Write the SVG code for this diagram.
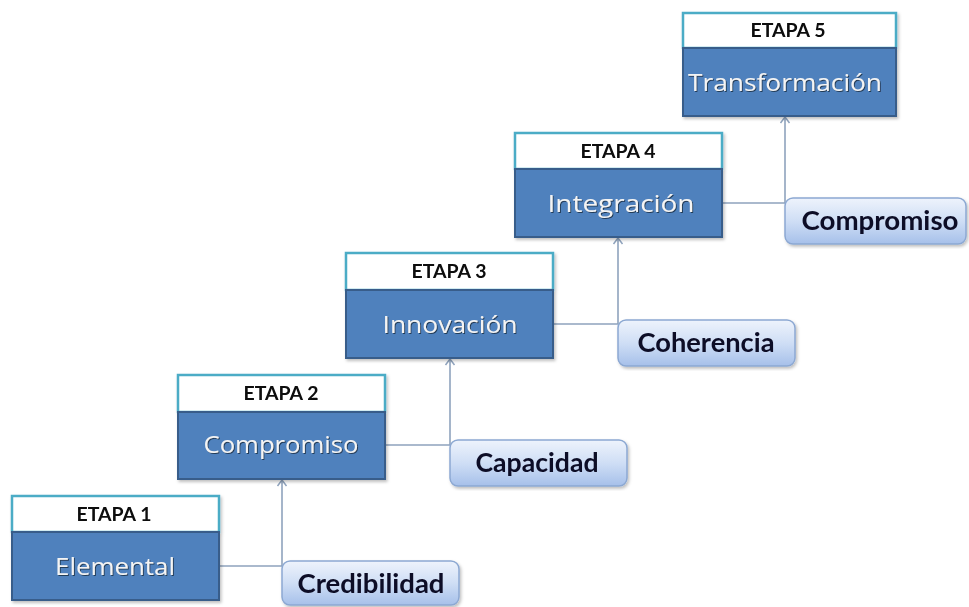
<svg xmlns="http://www.w3.org/2000/svg" width="969" height="607" viewBox="0 0 969 607">
<defs>
<linearGradient id="lg" x1="0" y1="0" x2="0" y2="1">
<stop offset="0" stop-color="#eef3fc"/>
<stop offset="0.5" stop-color="#cfdef5"/>
<stop offset="1" stop-color="#a6c0ea"/>
</linearGradient>
<filter id="ts" x="-10%" y="-30%" width="120%" height="160%">
<feDropShadow dx="1" dy="1" stdDeviation="0.6" flood-color="#1a2a40" flood-opacity="0.8"/>
</filter>
<filter id="bs" x="-5%" y="-5%" width="112%" height="115%">
<feDropShadow dx="1.5" dy="2" stdDeviation="1.5" flood-color="#000" flood-opacity="0.25"/>
</filter>
<marker id="ar" markerWidth="12" markerHeight="12" refX="6" refY="1" orient="0" markerUnits="userSpaceOnUse">
<path d="M1.5,7 L6,1 L10.5,7" fill="none" stroke="#8fa3bd" stroke-width="1.5"/>
</marker>
</defs>
<style>
.hd{fill:#ffffff;stroke:#4bacc6;stroke-width:2.5}
.bl{fill:#4f81bd;stroke:#385d8a;stroke-width:2}
.ht{font-family:Lato,"Liberation Sans",sans-serif;font-weight:bold;font-size:19px;fill:#0a0a0a;text-anchor:middle}
.bt{font-family:"Open Sans","Liberation Sans",sans-serif;font-size:24px;fill:#f4f4f4;text-anchor:middle;filter:url(#ts)}
.lb{fill:url(#lg);stroke:#8ca8d2;stroke-width:1.5}
.lt{font-family:Lato,"Liberation Sans",sans-serif;font-weight:bold;font-size:26px;fill:#0d0d26;text-anchor:middle}
.cn{fill:none;stroke:#8fa3bd;stroke-width:1.6}
</style>
<rect width="969" height="607" fill="#ffffff"/>
<g id="connectors">
<path class="cn" d="M219,566 H282 V480" marker-end="url(#ar)"/>
<path class="cn" d="M386,445 H450 V359" marker-end="url(#ar)"/>
<path class="cn" d="M554,324 H618 V238" marker-end="url(#ar)"/>
<path class="cn" d="M722,203 H785 V117" marker-end="url(#ar)"/>
</g>
<g id="etapa1" filter="url(#bs)">
<rect class="hd" x="12" y="496" width="207" height="36"/>
<rect class="bl" x="12" y="532" width="207" height="68"/>
<text class="ht" x="114" y="521" textLength="75" lengthAdjust="spacingAndGlyphs">ETAPA 1</text>
<text class="bt" x="115" y="575" textLength="120" lengthAdjust="spacingAndGlyphs">Elemental</text>
</g>
<g id="etapa2" filter="url(#bs)">
<rect class="hd" x="178" y="375" width="207" height="37"/>
<rect class="bl" x="178" y="412" width="207" height="67"/>
<text class="ht" x="281" y="400" textLength="75" lengthAdjust="spacingAndGlyphs">ETAPA 2</text>
<text class="bt" x="281" y="453" textLength="155" lengthAdjust="spacingAndGlyphs">Compromiso</text>
</g>
<g id="etapa3" filter="url(#bs)">
<rect class="hd" x="346" y="253" width="207" height="37"/>
<rect class="bl" x="346" y="290" width="207" height="68"/>
<text class="ht" x="449" y="278" textLength="75" lengthAdjust="spacingAndGlyphs">ETAPA 3</text>
<text class="bt" x="450" y="333" textLength="135" lengthAdjust="spacingAndGlyphs">Innovación</text>
</g>
<g id="etapa4" filter="url(#bs)">
<rect class="hd" x="515" y="133" width="207" height="36"/>
<rect class="bl" x="515" y="169" width="207" height="68"/>
<text class="ht" x="618" y="158" textLength="75" lengthAdjust="spacingAndGlyphs">ETAPA 4</text>
<text class="bt" x="621" y="212" textLength="147" lengthAdjust="spacingAndGlyphs">Integración</text>
</g>
<g id="etapa5" filter="url(#bs)">
<rect class="hd" x="683" y="13" width="213" height="35"/>
<rect class="bl" x="683" y="48" width="213" height="68"/>
<text class="ht" x="788" y="37" textLength="75" lengthAdjust="spacingAndGlyphs">ETAPA 5</text>
<text class="bt" x="785" y="91" textLength="194" lengthAdjust="spacingAndGlyphs">Transformación</text>
</g>
<g id="credibilidad" filter="url(#bs)">
<rect class="lb" x="282" y="561" width="177" height="44" rx="8"/>
<text class="lt" x="371" y="593" textLength="147" lengthAdjust="spacingAndGlyphs">Credibilidad</text>
</g>
<g id="capacidad" filter="url(#bs)">
<rect class="lb" x="450" y="440" width="177" height="46" rx="8"/>
<text class="lt" x="537" y="472" textLength="123" lengthAdjust="spacingAndGlyphs">Capacidad</text>
</g>
<g id="coherencia" filter="url(#bs)">
<rect class="lb" x="618" y="320" width="177" height="46" rx="8"/>
<text class="lt" x="706" y="352" textLength="137" lengthAdjust="spacingAndGlyphs">Coherencia</text>
</g>
<g id="compromiso" filter="url(#bs)">
<rect class="lb" x="785" y="198" width="181" height="46" rx="8"/>
<text class="lt" x="880" y="230" textLength="157" lengthAdjust="spacingAndGlyphs">Compromiso</text>
</g>
</svg>
